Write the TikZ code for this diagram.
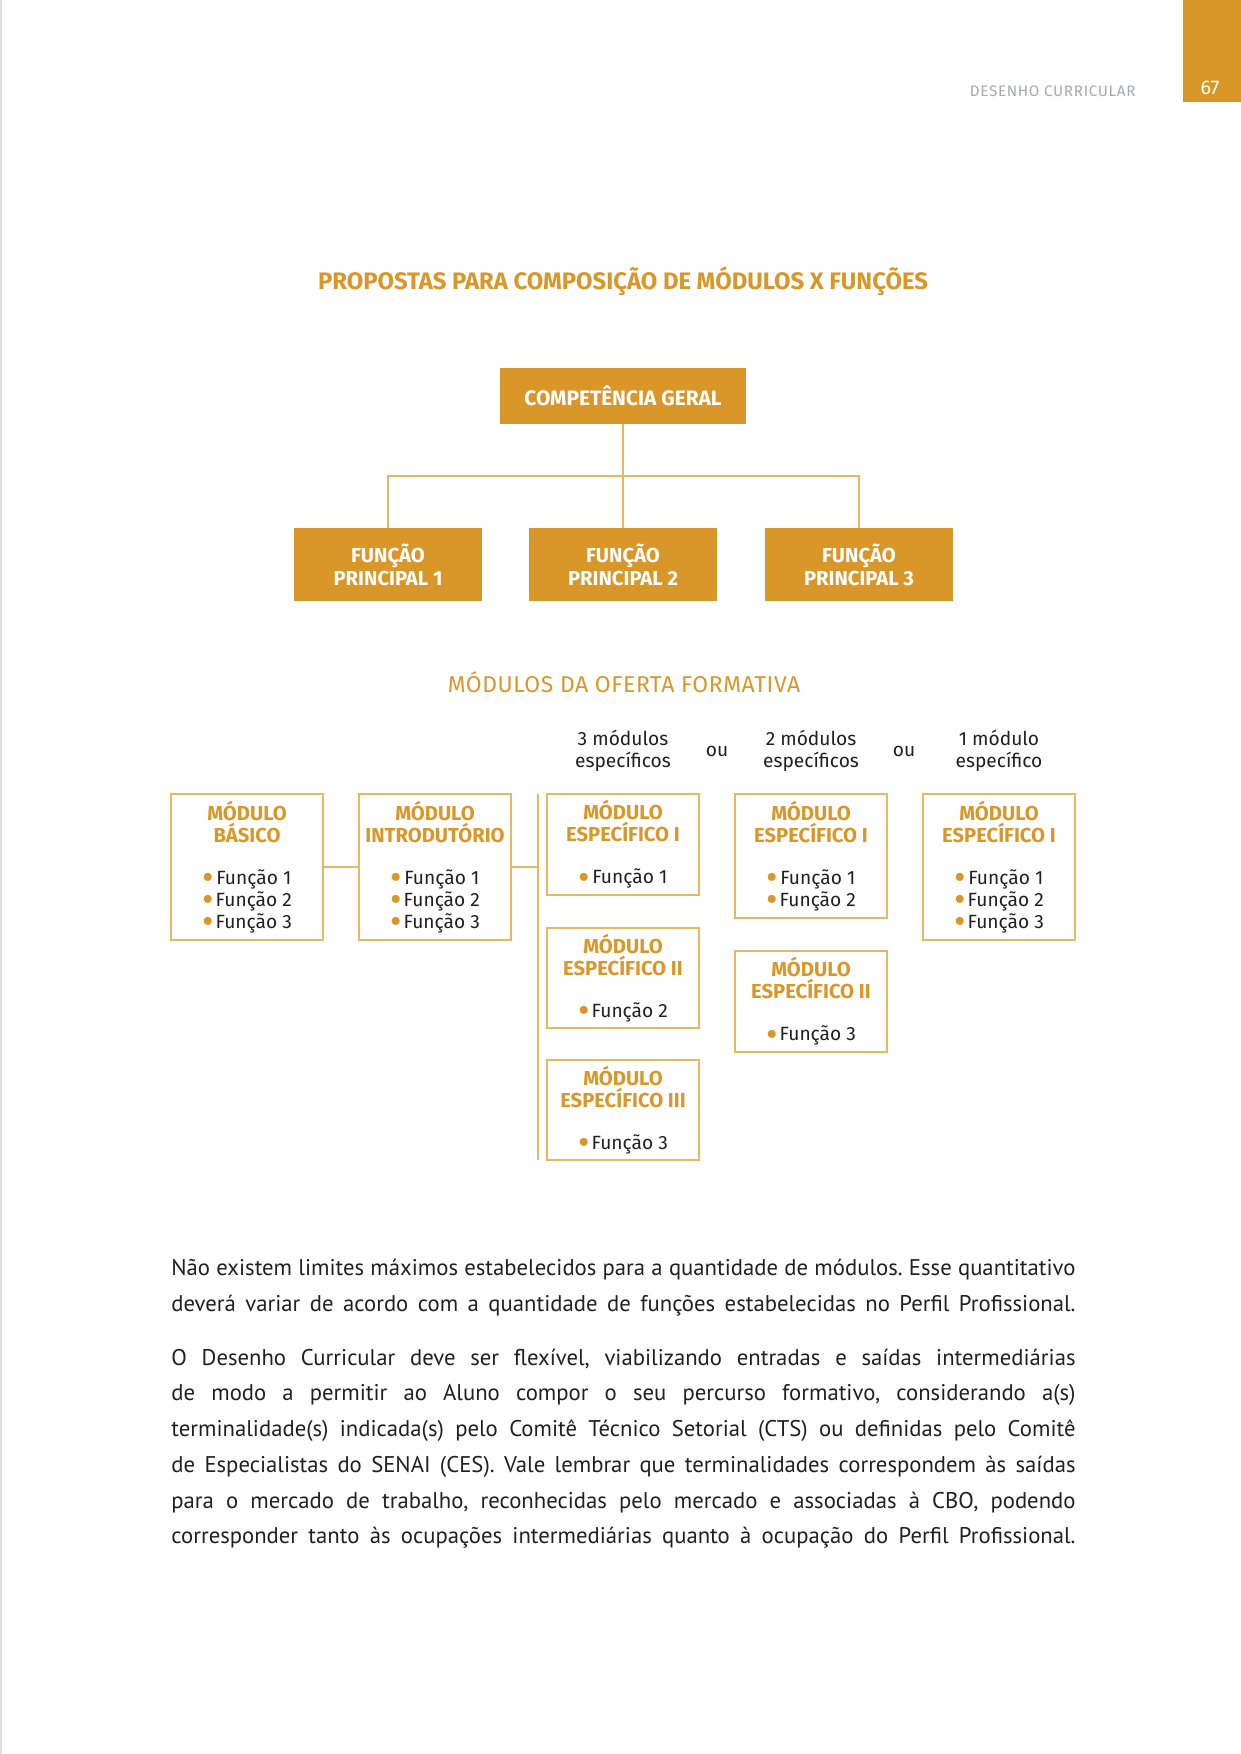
\documentclass[tikz,border=0pt]{standalone}
\usepackage{fontspec}
\setmainfont{Fira Sans}
\newfontfamily\ptsans{PT Sans}
\newfontfamily\subhfont[LetterSpace=2.5]{Fira Sans}
\newfontfamily\hdrfont[LetterSpace=4.5]{Fira Sans}
\definecolor{gold}{HTML}{D99729}
\definecolor{goldline}{HTML}{E6B866}
\definecolor{darktext}{HTML}{231F20}
\definecolor{hdrgray}{HTML}{A7A9AC}
\frenchspacing
\newcommand\ttl[1]{{\color{gold}\bfseries\fontsize{9.7}{10.56}\selectfont #1}}
\newcommand\bul{\smash{\color{gold}\fontsize{17}{10}\selectfont\raisebox{-2.6pt}{•}}\hspace{1pt}}
\newcommand\bodyline[1]{\makebox[434pt][s]{#1}}
\begin{document}
\begin{tikzpicture}[x=0.48pt,y=-0.48pt,
  solidbox/.style={fill=gold, text=white, inner sep=0pt, align=center,
    font=\bfseries\fontsize{9.7}{11}\selectfont},
  modbox/.style={draw=goldline, line width=1pt, inner sep=0pt, align=center,
    minimum width=73pt, text=darktext, font=\fontsize{9.2}{10.56}\selectfont},
  conn/.style={draw=goldline, line width=0.75pt},
  lbl/.style={inner sep=0pt, align=center, text=darktext, font=\fontsize{9.2}{10.56}\selectfont},
  body/.style={inner sep=0pt, anchor=west, text=darktext, font=\ptsans\fontsize{10.9}{12}\selectfont}
]
\useasboundingbox (0,0) rectangle (1241,1754);
\fill[white] (0,0) rectangle (1241,1754);
% page edge
\draw[color=black!12, line width=1pt] (1,0) -- (1,1754);
% tab
\fill[gold] (1183,0) rectangle (1241,102);
\node[inner sep=0pt, text=white, font=\fontsize{9.5}{11}\selectfont] (pagenum) at (1210,88) {67};
\node[inner sep=0pt, anchor=east, text=hdrgray, font=\hdrfont\fontsize{7.3}{9}\selectfont] (runhead) at (1136,91) {DESENHO CURRICULAR};

% title
\node[inner sep=0pt, text=gold, font=\bfseries\fontsize{11.45}{13}\selectfont] (title) at (623,281) {PROPOSTAS PARA COMPOSIÇÃO DE MÓDULOS X FUNÇÕES};

% top hierarchy
\node[solidbox, minimum width=118.1pt, minimum height=26.9pt, font=\bfseries\fontsize{10}{11}\selectfont] (cg) at (623,396) {COMPETÊNCIA GERAL};
\node[solidbox, minimum width=90.2pt, minimum height=35pt] (fp1) at (388,564.5) {FUNÇÃO\\PRINCIPAL 1};
\node[solidbox, minimum width=90.2pt, minimum height=35pt] (fp2) at (623,564.5) {FUNÇÃO\\PRINCIPAL 2};
\node[solidbox, minimum width=90.2pt, minimum height=35pt] (fp3) at (859,564.5) {FUNÇÃO\\PRINCIPAL 3};
\coordinate (bar) at (623,476);
\draw[conn] (cg.south) -- (fp2.north);
\draw[conn] (fp1.north) |- (bar) -| (fp3.north);

% subtitle
\node[inner sep=0pt, text=gold, font=\subhfont\fontsize{11}{13}\selectfont] (subtitle) at (624,682) {MÓDULOS DA OFERTA FORMATIVA};

% column labels
\node[lbl] (lab3) at (623,751) {3 módulos\\específicos};
\node[lbl] (ou1) at (717,751) {ou};
\node[lbl] (lab2) at (811,751) {2 módulos\\específicos};
\node[lbl] (ou2) at (904,751) {ou};
\node[lbl] (lab1) at (999,751) {1 módulo\\específico};

% module boxes
\node[modbox, minimum height=70.1pt] (mb) at (247,867)
  {\ttl{MÓDULO}\\\ttl{BÁSICO}\\[9.6pt]\bul Função 1\\\bul Função 2\\\bul Função 3};
\node[modbox, minimum height=70.1pt] (mi) at (435,867)
  {\ttl{MÓDULO}\\\ttl{INTRODUTÓRIO}\\[9.6pt]\bul Função 1\\\bul Função 2\\\bul Função 3};
\node[modbox, minimum height=48.5pt] (a1) at (623,844.5)
  {\ttl{MÓDULO}\\\ttl{ESPECÍFICO I}\\[9.6pt]\bul Função 1};
\node[modbox, minimum height=48pt] (a2) at (623,978)
  {\ttl{MÓDULO}\\\ttl{ESPECÍFICO II}\\[9.6pt]\bul Função 2};
\node[modbox, minimum height=48pt] (a3) at (623,1110)
  {\ttl{MÓDULO}\\\ttl{ESPECÍFICO III}\\[9.6pt]\bul Função 3};
\node[modbox, minimum height=59.5pt] (b1) at (811,856)
  {\ttl{MÓDULO}\\\ttl{ESPECÍFICO I}\\[9.6pt]\bul Função 1\\\bul Função 2};
\node[modbox, minimum height=48.5pt] (b2) at (811,1001.5)
  {\ttl{MÓDULO}\\\ttl{ESPECÍFICO II}\\[9.6pt]\bul Função 3};
\node[modbox, minimum height=70.1pt] (c1) at (999,867)
  {\ttl{MÓDULO}\\\ttl{ESPECÍFICO I}\\[9.6pt]\bul Função 1\\\bul Função 2\\\bul Função 3};

% module connectors
\coordinate (spt) at (538,794);
\coordinate (spb) at (538,1160);
\coordinate (spm) at (538,867);
\draw[conn] (mb.east) -- (mi.west);
\draw[conn] (mi.east) -- (spm);
\draw[conn] (spt) -- (spb);

% body text
\node[body] (l1) at (171,1270) {\bodyline{Não existem limites máximos estabelecidos para a quantidade de módulos. Esse quantitativo}};
\node[body] (l2) at (171,1306) {\bodyline{deverá variar de acordo com a quantidade de funções estabelecidas no Perfil Profissional.}};
\node[body] (l3) at (171,1359) {\bodyline{O Desenho Curricular deve ser flexível, viabilizando entradas e saídas intermediárias}};
\node[body] (l4) at (171,1395) {\bodyline{de modo a permitir ao Aluno compor o seu percurso formativo, considerando a(s)}};
\node[body] (l5) at (171,1431) {\bodyline{terminalidade(s) indicada(s) pelo Comitê Técnico Setorial (CTS) ou definidas pelo Comitê}};
\node[body] (l6) at (171,1467) {\bodyline{de Especialistas do SENAI (CES). Vale lembrar que terminalidades correspondem às saídas}};
\node[body] (l7) at (171,1503) {\bodyline{para o mercado de trabalho, reconhecidas pelo mercado e associadas à CBO, podendo}};
\node[body] (l8) at (171,1538) {\bodyline{corresponder tanto às ocupações intermediárias quanto à ocupação do Perfil Profissional.}};
\end{tikzpicture}
\end{document}
